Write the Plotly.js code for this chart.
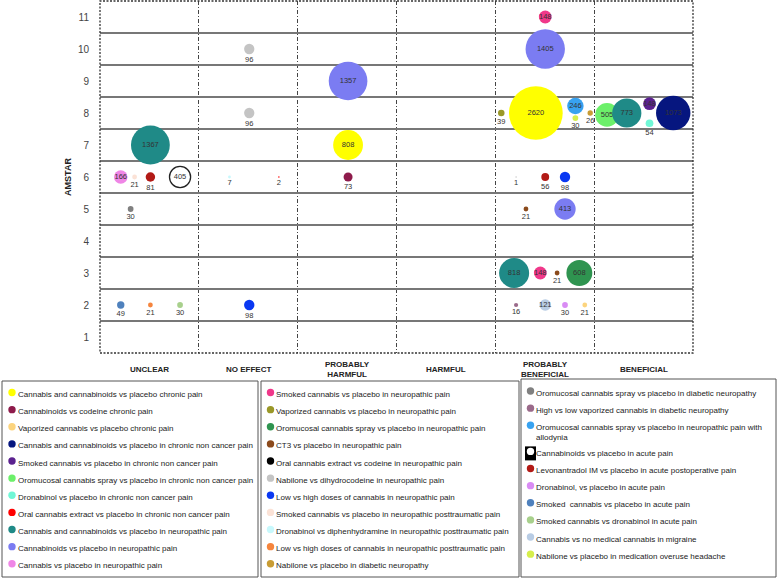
<!DOCTYPE html>
<html>
<head>
<meta charset="utf-8">
<script src="https://cdn.plot.ly/plotly-3.0.1.min.js"></script>
<style>
body { margin: 0; background: #fff; }
#chart { width: 778px; height: 580px; }
</style>
</head>
<body>
<div id="chart"></div>
<script>
var categories = ["UNCLEAR", "NO EFFECT", "PROBABLY<br>HARMFUL", "HARMFUL", "PROBABLY<br>BENEFICIAL", "BENEFICIAL"]
var amstarTicks = [1, 2, 3, 4, 5, 6, 7, 8, 9, 10, 11]

var seriesNames = [
    "Cannabis and cannabinoids vs placebo chronic pain",
    "Cannabinoids vs codeine chronic pain",
    "Vaporized cannabis vs placebo chronic pain",
    "Cannabis and cannabinoids vs placebo in chronic non cancer pain",
    "Smoked cannabis vs placebo in chronic non cancer pain",
    "Oromucosal cannabis spray vs placebo in chronic non cancer pain",
    "Dronabinol vs placebo in chronic non cancer pain",
    "Oral cannabis extract vs placebo in chronic non cancer pain",
    "Cannabis and cannabinoids vs placebo in neuropathic pain",
    "Cannabinoids vs placebo in neuropathic pain",
    "Cannabis vs placebo in neuropathic pain",
    "Smoked cannabis vs placebo in neuropathic pain",
    "Vaporized cannabis vs placebo in neuropathic pain",
    "Oromucosal cannabis spray vs placebo in neuropathic pain",
    "CT3 vs placebo in neuropathic pain",
    "Oral cannabis extract vs codeine in neuropathic pain",
    "Nabilone vs dihydrocodeine in neuropathic pain",
    "Low vs high doses of cannabis in neuropathic pain",
    "Smoked cannabis vs placebo in neuropathic posttraumatic pain",
    "Dronabinol vs diphenhydramine in neuropathic posttraumatic pain",
    "Low vs high doses of cannabis in neuropathic posttraumatic pain",
    "Nabilone vs placebo in diabetic neuropathy",
    "Oromucosal cannabis spray vs placebo in diabetic neuropathy",
    "High vs low vaporized cannabis in diabetic neuropathy",
    "Oromucosal cannabis spray vs placebo in neuropathic pain with<br>allodynia",
    "Cannabinoids vs placebo in acute pain",
    "Levonantradol IM vs placebo in acute postoperative pain",
    "Dronabinol, vs placebo in acute pain",
    "Smoked  cannabis vs placebo in acute pain",
    "Smoked cannabis vs dronabinol in acute pain",
    "Cannabis vs no medical cannabis in migraine",
    "Nabilone vs placebo in medication overuse headache"
]
var seriesColors = [
    "#ffff00", "#8e1b4b", "#fcd47e", "#06167f", "#5b218f", "#6cf06a", "#70f7d6", "#ff0000",
    "#1f8a87", "#7b7cf2", "#ef86e6",
    "#f0388a", "#9a9828", "#2f9450", "#8b4a1c", "#000000", "#c4c4c4", "#0a38f2", "#fbe2d6",
    "#c8f8fc", "#f5853e", "#c89c34",
    "#808080", "#9a6a8a", "#38a2f0", "#ffffff", "#b21a16", "#d98cf4", "#4f81bd", "#a8d08c",
    "#b8cce4", "#d6ee4c"
]
// 3 legend boxes, number of entries in each
var legendCounts = [11, 11, 10]

// one entry per bubble: which comparison, outcome column, AMSTAR score, patients
var bubbleSeries   = [10, 18, 26, 25, 8, 22, 28, 20, 29,
                      16, 16, 19, 7, 17,
                      9, 0, 1,
                      11, 9, 12, 0, 24, 31, 21, 16, 26, 17, 14, 9, 8, 11, 14, 13, 23, 30, 27, 2,
                      5, 8, 4, 6, 3]
var bubbleCategory = [0, 0, 0, 0, 0, 0, 0, 0, 0,
                      1, 1, 1, 1, 1,
                      2, 2, 2,
                      4, 4, 4, 4, 4, 4, 4, 4, 4, 4, 4, 4, 4, 4, 4, 4, 4, 4, 4, 4,
                      5, 5, 5, 5, 5]
var bubbleAmstar   = [6, 6, 6, 6, 7, 5, 2, 2, 2,
                      10, 8, 6, 6, 2,
                      9, 7, 6,
                      11, 10, 8, 8, 8, 8, 8, 6, 6, 6, 5, 5, 3, 3, 3, 3, 2, 2, 2, 2,
                      8, 8, 8, 8, 8]
var bubblePatients = [166, 21, 81, 405, 1367, 30, 49, 21, 30,
                      96, 96, 7, 2, 98,
                      1357, 808, 73,
                      148, 1405, 39, 2620, 246, 30, 26, 1, 56, 98, 21, 413, 818, 148, 21, 608, 16, 121, 30, 21,
                      505, 773, 148, 54, 1073]

// placement of each bubble inside its cell (column fraction, row nudge)
var cellX = [0.21, 0.35, 0.51, 0.81, 0.51, 0.31, 0.21, 0.51, 0.81,
             0.51, 0.51, 0.31, 0.81, 0.51,
             0.51, 0.51, 0.51,
             0.505, 0.505, 0.06, 0.41, 0.81, 0.81, 0.96, 0.21, 0.505, 0.705, 0.31, 0.705, 0.19, 0.455, 0.625, 0.85, 0.21, 0.505, 0.705, 0.905,
             0.13, 0.33, 0.56, 0.56, 0.80]
var cellY = [0, 0, 0, 0, 0, 0, 0, 0, 0,
             0, 0, 0, 0, 0,
             0, 0, 0,
             0, 0, 0, 0, 0.22, -0.16, 0, 0, 0, 0, 0, 0, 0, 0, 0, 0, 0, 0, 0, 0,
             -0.06, 0, 0.29, -0.32, 0]

var W = 778, H = 580
function px(x) { return x / W }
function py(y) { return 1 - y / H }

var labelFont = {family: "Liberation Sans Narrow, Liberation Sans, Arial, sans-serif", size: 7.5, color: "#333"}

var data = []
seriesNames.forEach(function(name, s) {
    var xs = [], ys = [], ns = [], pos = []
    bubbleSeries.forEach(function(b, i) {
        if (b !== s) return
        xs.push(bubbleCategory[i] + cellX[i])
        ys.push(bubbleAmstar[i] + cellY[i])
        ns.push(bubblePatients[i])
        pos.push(bubblePatients[i] > 100 ? "middle center" : "bottom center")
    })
    if (!xs.length) return
    var outlined = seriesColors[s] === "#ffffff"
    data.push({
        x: xs,
        y: ys,
        text: ns.map(String),
        type: "scatter",
        mode: "markers+text",
        name: name,
        showlegend: false,
        hoverinfo: "skip",
        textposition: pos,
        textfont: labelFont,
        cliponaxis: false,
        marker: {
            size: ns,
            sizemode: "area",
            sizeref: 1.814,
            sizemin: 0.7,
            color: seriesColors[s],
            opacity: 1,
            line: {width: outlined ? 1.3 : 0, color: "#222"}
        }
    })
})

var shapes = [{
    type: "rect", xref: "x domain", yref: "y domain", x0: 0, x1: 1, y0: 0, y1: 1,
    line: {color: "#333", width: 1.3, dash: "2px,1.5px"}
}]
var annotations = []

// column names under the plot, centred vertically like the original
categories.forEach(function(c, i) {
    annotations.push({
        xref: "x", yref: "paper", x: i + 0.5, y: py(369.5),
        xanchor: "center", yanchor: "middle", showarrow: false, text: c,
        font: {family: "Liberation Sans Narrow, Liberation Sans, Arial, sans-serif", size: 8, color: "#222", weight: "bold"}
    })
})

// hand-built legend: three boxes under the chart
var boxes = [
    {x0: 2, x1: 258, y0: 381, y1: 577, dot: 12, first: 394.5},
    {x0: 261, x1: 519, y0: 381, y1: 577, dot: 270.5, first: 394.5},
    {x0: 521, x1: 776, y0: 379, y1: 577, dot: 530.5, first: 393}
]
var k = 0
boxes.forEach(function(b, bi) {
    shapes.push({
        type: "rect", xref: "paper", yref: "paper",
        x0: px(b.x0), x1: px(b.x1), y0: py(b.y0), y1: py(b.y1),
        line: {color: "#555", width: 1}
    })
    var yc = b.first
    for (var j = 0; j < legendCounts[bi]; j++, k++) {
        var col = seriesColors[k]
        if (col === "#ffffff") {
            shapes.push({type: "rect", xref: "paper", yref: "paper", xsizemode: "pixel", ysizemode: "pixel",
                xanchor: px(b.dot), yanchor: py(yc), x0: -5.5, x1: 5.5, y0: -7, y1: 7,
                fillcolor: "#000", line: {width: 0}})
        }
        shapes.push({
            type: "circle", xref: "paper", yref: "paper", xsizemode: "pixel", ysizemode: "pixel",
            xanchor: px(b.dot), yanchor: py(yc - 2), x0: -3.7, x1: 3.7, y0: -3.7, y1: 3.7,
            fillcolor: col, line: {width: 0}
        })
        annotations.push({
            xref: "paper", yref: "paper", x: px(b.dot + 3.5), y: py(yc - 6.5),
            xanchor: "left", yanchor: "top", align: "left", showarrow: false,
            text: seriesNames[k],
            font: {family: "Liberation Sans, Arial, sans-serif", size: 8, color: "#222"}
        })
        var lines = seriesNames[k].split("<br>").length
        yc += 17.13 + (lines - 1) * 9
    }
})

var layout = {
    width: W,
    height: H,
    margin: {l: 0, r: 0, t: 0, b: 0},
    paper_bgcolor: "#fff",
    plot_bgcolor: "#fff",
    showlegend: false,
    xaxis: {
        domain: [px(100), px(693)],
        range: [0, 6],
        showticklabels: false,
        ticks: "",
        showgrid: false,
        zeroline: false,
        showline: false,
        minor: {tickmode: "array", tickvals: [1, 2, 3, 4, 5], showgrid: true, gridcolor: "#444", gridwidth: 1, griddash: "4px,2px,1px,2px", ticks: ""}
    },
    yaxis: {
        domain: [py(353), py(1)],
        range: [0.5, 11.5],
        tickmode: "array",
        tickvals: amstarTicks,
        ticks: "",
        ticklabelstandoff: 10,
        tickfont: {family: "Liberation Sans, Arial, sans-serif", size: 10, color: "#444"},
        showgrid: false,
        zeroline: false,
        showline: false,
        title: {text: "AMSTAR", standoff: 4, font: {family: "Liberation Sans, Arial, sans-serif", size: 9, color: "#222", weight: "bold"}},
        minor: {tickmode: "array", tickvals: [1.5, 2.5, 3.5, 4.5, 5.5, 6.5, 7.5, 8.5, 9.5, 10.5], showgrid: true, gridcolor: "#777", gridwidth: 1.5, ticks: ""}
    },
    shapes: shapes,
    annotations: annotations
}

Plotly.newPlot("chart", data, layout, {displayModeBar: false, staticPlot: true})
</script>
</body>
</html>
